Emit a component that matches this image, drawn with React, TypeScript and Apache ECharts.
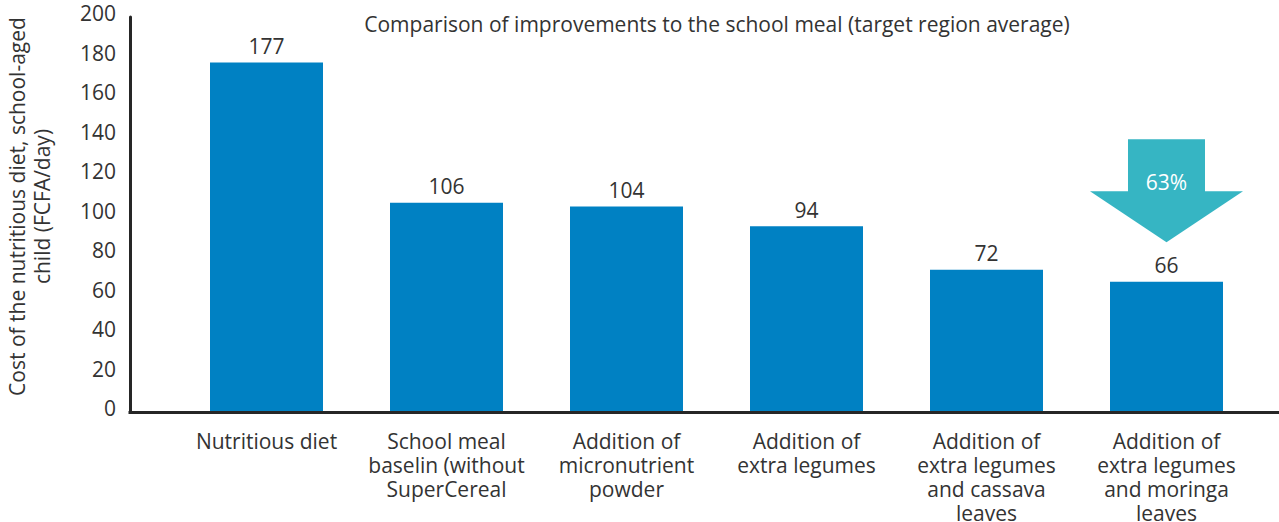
import React, { useEffect, useRef } from "react";
import * as echarts from "echarts";

const categories = [
  "Nutritious diet",
  "School meal\nbaselin (without\nSuperCereal",
  "Addition of\nmicronutrient\npowder",
  "Addition of\nextra legumes",
  "Addition of\nextra legumes\nand cassava\nleaves",
  "Addition of\nextra legumes\nand moringa\nleaves",
];
const costs = [177, 106, 104, 94, 72, 66];
const reductionLabel = "63%";
const arrowCategoryIndex = 5;
const arrowCenterValue = 112;
const titleText = "Comparison of improvements to the school meal (target region average)";
const yAxisName = "Cost of the nutritious diet, school-aged\nchild (FCFA/day)";

const FONT = "'Open Sans', 'Noto Sans', sans-serif";
const TEXT = "#333333";
const AXIS = "#262626";
const FS = 21;

export default function App() {
  const ref = useRef<HTMLDivElement>(null);
  useEffect(() => {
    if (!ref.current) return;
    const chart = echarts.init(ref.current, null, { renderer: "svg" });
    chart.setOption({
      animation: false,
      textStyle: { fontFamily: FONT },
      title: {
        text: titleText,
        left: 712,
        textAlign: "center",
        top: 8,
        textStyle: { fontFamily: FONT, fontSize: FS, fontWeight: "normal", color: TEXT },
      },
      grid: {
        left: 176.5,
        right: 22.5,
        top: 17,
        bottom: 110,
        containLabel: false,
        outerBoundsMode: "none",
      },
      xAxis: {
        type: "category",
        data: categories,
        axisLine: { show: false },
        axisTick: { show: false },
        axisLabel: {
          interval: 0,
          margin: 17,
          fontFamily: FONT,
          fontSize: FS,
          lineHeight: 24,
          color: TEXT,
          verticalAlign: "top",
        },
      },
      yAxis: {
        type: "value",
        min: 0,
        max: 200,
        interval: 20,
        offset: 46.5,
        name: yAxisName,
        nameLocation: "middle",
        nameGap: 76,
        nameRotate: 90,
        nameMoveOverlap: false,
        nameTextStyle: {
          fontFamily: FONT,
          fontSize: FS,
          lineHeight: 25,
          color: TEXT,
          padding: [0, 0, 0, 16],
        },
        axisLine: { show: true, lineStyle: { color: AXIS, width: 3 } },
        axisTick: { show: false },
        splitLine: { show: false },
        axisLabel: {
          margin: 14,
          color: TEXT,
          formatter: (v: number) => `{v|${v}}\n{g| }`,
          rich: {
            v: { fontFamily: FONT, fontSize: FS, lineHeight: 24, color: TEXT },
            g: { fontSize: 1, lineHeight: 8 },
          },
        },
      },
      graphic: [
        {
          type: "line",
          shape: { x1: 128.5, y1: 412.5, x2: 1279, y2: 412.5 },
          style: { stroke: AXIS, lineWidth: 3 },
          z: 10,
        },
      ],
      series: [
        {
          type: "bar",
          data: costs,
          barWidth: 113,
          itemStyle: { color: "#0081C3" },
          label: {
            show: true,
            position: "top",
            distance: 6,
            fontFamily: FONT,
            fontSize: FS,
            color: TEXT,
          },
          markPoint: {
            symbol: "path://M38,0 L115,0 L115,52 L153,52 L76.5,103 L0,52 L38,52 Z",
            symbolSize: [153, 103],
            symbolKeepAspect: false,
            itemStyle: { color: "#36B5C3" },
            label: {
              show: true,
              position: "inside",
              offset: [0, -9],
              formatter: reductionLabel,
              fontFamily: FONT,
              fontSize: FS,
              color: "#ffffff",
            },
            data: [{ coord: [arrowCategoryIndex, arrowCenterValue], value: reductionLabel }],
          },
        },
      ],
    });
    return () => chart.dispose();
  }, []);
  return (
    <div
      ref={ref}
      style={{ position: "fixed", left: 0, top: 0, width: 1279, height: 522, background: "#fff" }}
    />
  );
}
